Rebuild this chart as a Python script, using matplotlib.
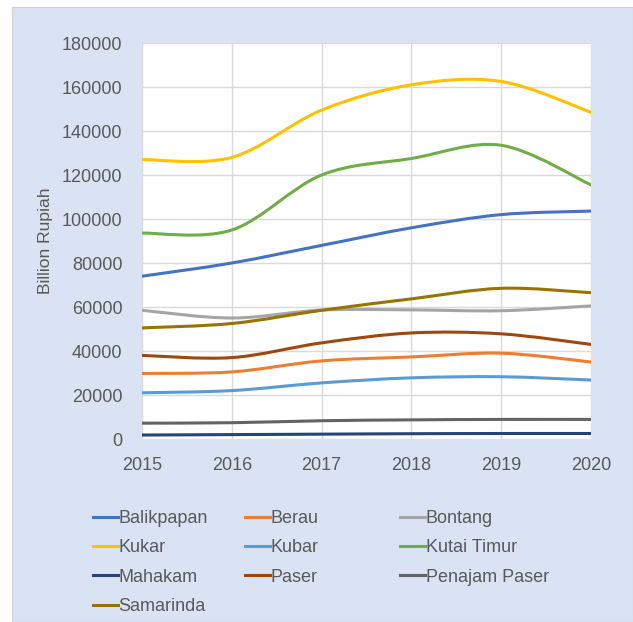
import numpy as np
import matplotlib.pyplot as plt
from matplotlib.path import Path
from matplotlib.patches import PathPatch, Rectangle
from matplotlib.lines import Line2D

plt.rcParams['font.family'] = ['Liberation Sans', 'DejaVu Sans']

# Data (billion rupiah)
years = [2015, 2016, 2017, 2018, 2019, 2020]
balikpapan = [74000, 80000, 88000, 96000, 102000, 103600]
berau = [29800, 30500, 35500, 37300, 39000, 35000]
bontang = [58500, 55000, 58600, 58700, 58300, 60500]
kukar = [127000, 128000, 149500, 161000, 162500, 148500]
kubar = [21000, 22000, 25500, 27800, 28300, 26800]
kutai_timur = [93600, 95000, 120000, 127500, 133500, 115500]
mahakam = [1800, 2000, 2200, 2400, 2500, 2500]
paser = [38000, 37000, 43700, 48200, 47800, 43000]
penajam_paser = [7200, 7400, 8300, 8700, 8900, 8900]
samarinda = [50500, 52500, 58500, 63700, 68500, 66500]

names = ["Balikpapan", "Berau", "Bontang", "Kukar", "Kubar", "Kutai Timur",
         "Mahakam", "Paser", "Penajam Paser", "Samarinda"]
series = [balikpapan, berau, bontang, kukar, kubar, kutai_timur,
          mahakam, paser, penajam_paser, samarinda]
colors = ["#4472C4", "#ED7D31", "#A5A5A5", "#FFC000", "#5B9BD5", "#70AD47",
          "#264478", "#9E480E", "#636363", "#997300"]

txt_color = "#595959"
bg_color = "#DAE3F3"


def smooth_path(x, y):
    # Bezier curve through the points, like Excel's "smoothed line"
    pts = np.column_stack([x, y]).astype(float)
    n = len(pts)
    verts = [pts[0]]
    codes = [Path.MOVETO]
    for i in range(n - 1):
        p0 = pts[max(i - 1, 0)]
        p1 = pts[i]
        p2 = pts[i + 1]
        p3 = pts[min(i + 2, n - 1)]
        c1 = p1 + (p2 - p0) / 6
        c2 = p2 - (p3 - p1) / 6
        verts += [c1, c2, p2]
        codes += [Path.CURVE4] * 3
    return Path(verts, codes)


fig = plt.figure(figsize=(6.33, 6.22), dpi=100)
fig.patch.set_facecolor("white")
fig.patches.append(Rectangle((12 / 633, 0), 1 - 12 / 633, 1 - 7 / 622,
                             transform=fig.transFigure, facecolor=bg_color,
                             edgecolor="#D0D0D0", linewidth=0.8, zorder=-10))

ax = fig.add_axes([142 / 633, 1 - 439 / 622, 449 / 633, 396 / 622])
ax.set_facecolor("white")

for vals, c in zip(series, colors):
    patch = PathPatch(smooth_path(years, vals), facecolor="none", edgecolor=c,
                      linewidth=2.2, capstyle="round", joinstyle="round", zorder=3)
    ax.add_patch(patch)

ax.set_xlim(2015, 2020)
ax.set_ylim(0, 180000)
ax.set_xticks(years)
ax.set_yticks(np.arange(0, 180001, 20000))
ax.grid(True, color="#D9D9D9", linewidth=1.0, zorder=0)
ax.set_axisbelow(True)
for s in ax.spines.values():
    s.set_visible(False)
ax.tick_params(axis="both", length=0, labelsize=13, colors=txt_color)
ax.tick_params(axis="x", pad=13)
ax.tick_params(axis="y", pad=14)
ax.set_ylabel("Billion Rupiah", fontsize=12.6, color=txt_color)
ax.yaxis.set_label_coords(-0.198, 0.5)

# legend: three columns placed like the Excel one
handles = [Line2D([], [], color=c, linewidth=2.2) for c in colors]
col_x = [86 / 633, 238 / 633, 393 / 633]
for k, x0 in enumerate(col_x):
    idx = list(range(k, len(names), 3))
    leg = fig.legend([handles[i] for i in idx], [names[i] for i in idx],
                     loc="upper left", bbox_to_anchor=(x0, 1 - 503 / 622),
                     frameon=False, fontsize=13, handlelength=1.35,
                     handletextpad=0.05, labelspacing=0.68, borderaxespad=0)
    for t in leg.get_texts():
        t.set_color(txt_color)

fig.savefig("out.png", dpi=100)
